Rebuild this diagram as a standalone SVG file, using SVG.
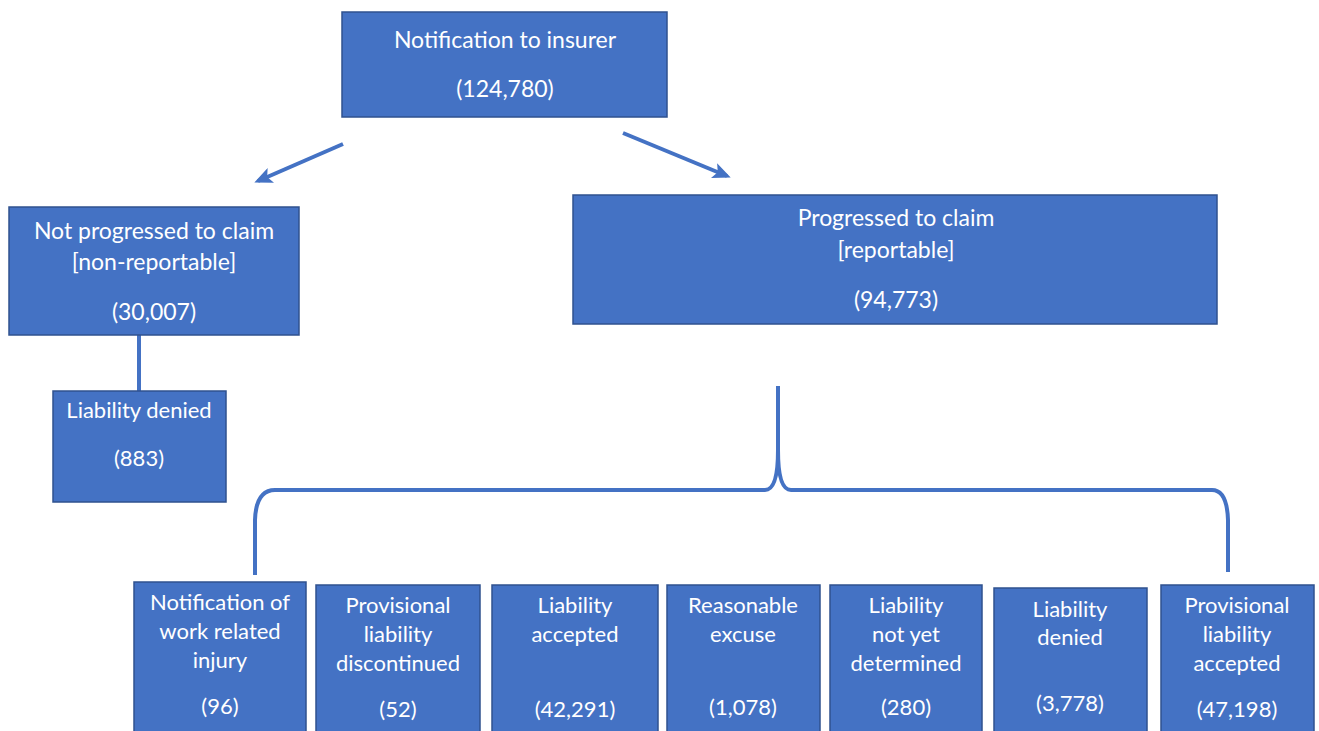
<svg xmlns="http://www.w3.org/2000/svg" width="1319" height="731" viewBox="0 0 1319 731">
<defs>
<style>
.box{fill:#4472C4;stroke:#2F528F;stroke-width:1.5}
.t{font-family:Lato,"Liberation Sans",sans-serif;font-size:22px;fill:#FFFFFF;text-anchor:middle}
.t2{font-size:23px}
.c{fill:none;stroke:#4472C4;stroke-width:4}
</style>
<marker id="ah" markerWidth="18" markerHeight="16" refX="14" refY="8" orient="auto" markerUnits="userSpaceOnUse" viewBox="0 0 18 16">
<path d="M0,0 L18,8 L0,16 L4,8 Z" fill="#4472C4"/>
</marker>
</defs>
<rect width="1319" height="731" fill="#FFFFFF"/>
<g id="connectors">
<line class="c" x1="343" y1="144" x2="258" y2="181" marker-end="url(#ah)"/>
<line class="c" x1="623" y1="133" x2="727" y2="176" marker-end="url(#ah)"/>
<line class="c" x1="139" y1="335" x2="139" y2="391"/>
<path class="c" d="M255,575 L255,520 Q256,490 275,490 L765,490 Q778,490 778,450 L778,386 M778,450 Q778,490 791,490 L1212,490 Q1227,490 1228,520 L1228,572"/>
</g>
<g id="n-top"><rect class="box" x="342" y="12" width="325" height="105"/>
<text class="t t2" x="505" y="48">Notification to insurer</text><text class="t t2" x="505" y="97">(124,780)</text></g>
<g id="n-notprog"><rect class="box" x="9" y="207" width="290" height="128"/>
<text class="t t2" x="154" y="239">Not progressed to claim</text><text class="t t2" x="154" y="270">[non-reportable]</text><text class="t t2" x="154" y="320">(30,007)</text></g>
<g id="n-prog"><rect class="box" x="573" y="195" width="644" height="129"/>
<text class="t t2" x="896" y="226">Progressed to claim</text><text class="t t2" x="896" y="258">[reportable]</text><text class="t t2" x="896" y="308">(94,773)</text></g>
<g id="n-denied0"><rect class="box" x="53" y="391" width="173" height="111"/>
<text class="t" x="139" y="418">Liability denied</text><text class="t" x="139" y="466">(883)</text></g>
<g id="n-b1"><rect class="box" x="134" y="582" width="172" height="160"/>
<text class="t" x="220" y="610">Notification of</text><text class="t" x="220" y="639">work related</text><text class="t" x="220" y="668">injury</text><text class="t" x="220" y="714">(96)</text></g>
<g id="n-b2"><rect class="box" x="316" y="585" width="164" height="160"/>
<text class="t" x="398" y="613">Provisional</text><text class="t" x="398" y="642">liability</text><text class="t" x="398" y="671">discontinued</text><text class="t" x="398" y="717">(52)</text></g>
<g id="n-b3"><rect class="box" x="492" y="585" width="166" height="160"/>
<text class="t" x="575" y="613">Liability</text><text class="t" x="575" y="642">accepted</text><text class="t" x="575" y="717">(42,291)</text></g>
<g id="n-b4"><rect class="box" x="667" y="585" width="153" height="160"/>
<text class="t" x="743" y="613">Reasonable</text><text class="t" x="743" y="642">excuse</text><text class="t" x="743" y="715">(1,078)</text></g>
<g id="n-b5"><rect class="box" x="830" y="585" width="152" height="160"/>
<text class="t" x="906" y="613">Liability</text><text class="t" x="906" y="642">not yet</text><text class="t" x="906" y="671">determined</text><text class="t" x="906" y="715">(280)</text></g>
<g id="n-b6"><rect class="box" x="994" y="588" width="153" height="160"/>
<text class="t" x="1070" y="617">Liability</text><text class="t" x="1070" y="645">denied</text><text class="t" x="1070" y="711">(3,778)</text></g>
<g id="n-b7"><rect class="box" x="1161" y="585" width="153" height="160"/>
<text class="t" x="1237" y="613">Provisional</text><text class="t" x="1237" y="642">liability</text><text class="t" x="1237" y="671">accepted</text><text class="t" x="1237" y="717">(47,198)</text></g>
</svg>
